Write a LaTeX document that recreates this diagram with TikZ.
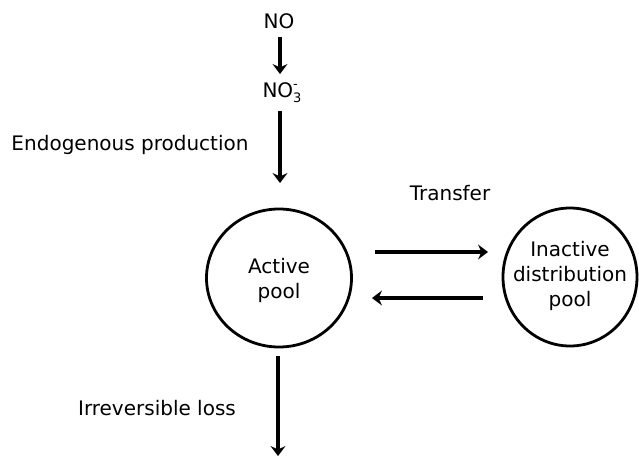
\documentclass[tikz,border=0pt]{standalone}
\usepackage{fontspec}
\setmainfont{DejaVu Sans}
\usetikzlibrary{arrows.meta,shapes.geometric}
\begin{document}
\begin{tikzpicture}[x=1pt,y=-1pt,
  lbl/.style={font=\fontsize{20}{25}\selectfont, inner sep=0pt, anchor=base},
  pool/.style={ellipse, draw, line width=2.8pt, inner sep=0pt},
  pooltext/.style={align=center, inner sep=0pt, font=\fontsize{20}{25}\selectfont},
  flow/.style={line width=3.6pt, -{Stealth[length=10pt,width=15pt,inset=3.5pt]}}]
\useasboundingbox (0,0) rectangle (639,458);
\node[lbl] (no) at (279,28) {NO};
\node[lbl] (no3) at (282,97) {NO\rlap{\raisebox{9pt}{\fontsize{13}{13}\selectfont -}}\raisebox{-5pt}{\fontsize{13}{13}\selectfont 3}};
\node[lbl] (endo) at (130,150) {Endogenous production};
\node[lbl] (transfer) at (450,200) {Transfer};
\node[lbl] (irr) at (157,415) {Irreversible loss};
\node[pool, minimum width=145pt, minimum height=138pt] (active) at (279,278) {};
\node[pooltext] (activetext) at ([yshift=-2pt]active.center) {Active\\pool};
\node[pool, minimum width=134pt, minimum height=138pt] (inactive) at (570,277) {};
\node[pooltext] (inactivetext) at ([yshift=1pt]inactive.center) {Inactive\\distribution\\pool};
\coordinate (a1) at (280,37);
\coordinate (a2) at (280,74);
\coordinate (b1) at (280,111);
\coordinate (ae) at (280,183);
\coordinate (ls) at (278,356);
\coordinate (le) at (278,456);
\coordinate (r1) at (375,252);
\coordinate (r2) at (488,252);
\coordinate (l1) at (483,298);
\coordinate (l2) at (372,298);
\draw[flow] (a1) -- (a2);
\draw[flow] (b1) -- (ae);
\draw[flow] (r1) -- (r2);
\draw[flow] (l1) -- (l2);
\draw[flow] (ls) -- (le);
\end{tikzpicture}
\end{document}
